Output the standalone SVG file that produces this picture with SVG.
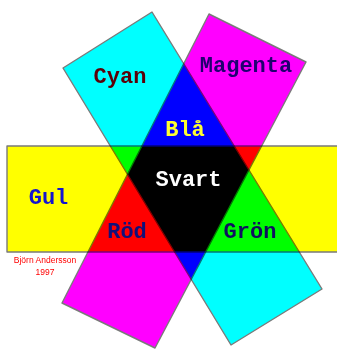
<svg xmlns="http://www.w3.org/2000/svg" width="337" height="349" viewBox="0 0 337 349">
  <style>
    .band { mix-blend-mode: multiply; stroke: #7a7a7a; stroke-width: 1.4; stroke-linejoin: round; }
    .lbl { font-family: "Liberation Mono", "DejaVu Sans Mono", monospace; font-weight: bold; font-size: 22px; text-anchor: middle; }
    .credit { font-family: "Liberation Sans", Arial, sans-serif; font-size: 8.5px; fill: #ff0000; text-anchor: middle; }
  </style>
  <rect width="337" height="349" fill="#ffffff"/>
  <g id="shapes" style="isolation:isolate">
    <polygon id="yellow" class="band" points="7,146 340,146 340,252 7,252" fill="#ffff00"/>
    <polygon id="cyan" class="band" points="152,12 63,68 231,345 322,289" fill="#00ffff"/>
    <polygon id="magenta" class="band" points="209,14 306,62 155,348 62,303" fill="#ff00ff"/>
  </g>
  <g id="labels">
    <text class="lbl" x="120" y="83" fill="#5a0008">Cyan</text>
    <text class="lbl" x="246" y="72" fill="#200070">Magenta</text>
    <text class="lbl" x="185" y="136" fill="#ffff30">Blå</text>
    <text class="lbl" x="188.5" y="186" fill="#ffffff">Svart</text>
    <text class="lbl" x="48.5" y="204" fill="#1414d0">Gul</text>
    <text class="lbl" x="127" y="238" fill="#10107a">Röd</text>
    <text class="lbl" x="250" y="238" fill="#101060">Grön</text>
  </g>
  <g id="credit">
    <text class="credit" x="45" y="263">Björn Andersson</text>
    <text class="credit" x="45" y="275">1997</text>
  </g>
</svg>
